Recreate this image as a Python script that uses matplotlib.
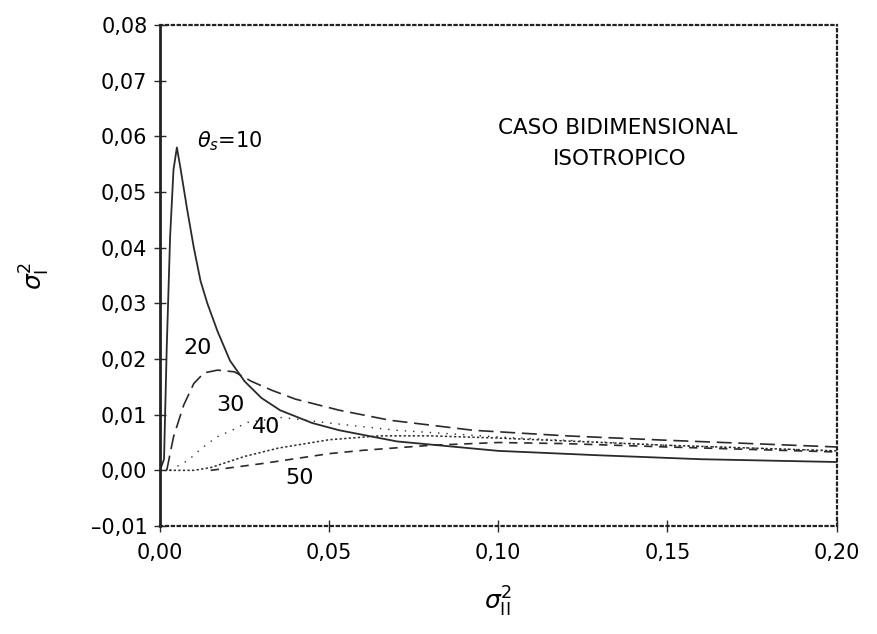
import matplotlib.pyplot as plt
import matplotlib.ticker as ticker

plt.rcParams['font.family'] = ['DejaVu Sans']

# curves (x = sigma^2_II, y = sigma^2_I)
x10 = [0.0, 0.0012, 0.002, 0.003, 0.004, 0.005, 0.006, 0.008, 0.010, 0.012, 0.014, 0.017,
       0.0207, 0.025, 0.030, 0.0355, 0.045, 0.053, 0.070, 0.100, 0.130, 0.160, 0.200]
y10 = [0.0, 0.002, 0.022, 0.042, 0.054, 0.058, 0.0545, 0.047, 0.040, 0.034, 0.030, 0.025,
       0.0197, 0.016, 0.013, 0.0108, 0.0085, 0.0072, 0.0052, 0.0035, 0.0027, 0.0020, 0.0015]

x20 = [0.002, 0.004, 0.007, 0.010, 0.013, 0.017, 0.022, 0.027, 0.033, 0.040, 0.053,
       0.068, 0.0925, 0.120, 0.150, 0.200]
y20 = [0.0, 0.006, 0.0117, 0.0156, 0.0175, 0.018, 0.0177, 0.016, 0.0144, 0.0128, 0.0108,
       0.009, 0.0072, 0.0062, 0.0054, 0.0042]

x30 = [0.003, 0.0083, 0.0124, 0.0168, 0.0213, 0.0257, 0.036, 0.050, 0.070, 0.100, 0.150, 0.200]
y30 = [0.0, 0.0018, 0.004, 0.006, 0.0072, 0.0086, 0.0095, 0.0085, 0.0072, 0.006, 0.0045, 0.0035]

x40 = [0.0, 0.010, 0.015, 0.025, 0.035, 0.050, 0.065, 0.080, 0.100, 0.150, 0.200]
y40 = [0.0, 0.0, 0.0005, 0.0025, 0.004, 0.0055, 0.0062, 0.0062, 0.0058, 0.0045, 0.0035]

x50 = [0.015, 0.020, 0.030, 0.040, 0.050, 0.060, 0.080, 0.100, 0.120, 0.150, 0.200]
y50 = [0.0, 0.0004, 0.0012, 0.0021, 0.003, 0.0036, 0.0045, 0.005, 0.0048, 0.0042, 0.0033]

curve_labels = ['20', '30', '40', '50']
label_x = [0.0112, 0.0207, 0.0313, 0.0414]
label_y = [0.0219, 0.0117, 0.0077, -0.0014]

fig = plt.figure(figsize=(8.77, 6.34), dpi=100)
ax = fig.add_axes([0.1824, 0.1703, 0.7716, 0.7903])

c = '#2a2a2a'
ax.plot(x10, y10, color=c, linewidth=1.3, linestyle='-')
ax.plot(x20, y20, color=c, linewidth=1.2, linestyle=(0, (9, 4)))
ax.plot(x30, y30, color=c, linewidth=1.0, linestyle=(0, (1, 5)))
ax.plot(x40, y40, color=c, linewidth=1.1, linestyle=(0, (1.5, 1.5)))
ax.plot(x50, y50, color=c, linewidth=1.2, linestyle=(0, (5, 4)))

ax.set_xlim(0.0, 0.20)
ax.set_ylim(-0.01, 0.08)
ax.set_xticks([0.0, 0.05, 0.10, 0.15, 0.20])
ax.set_yticks([-0.01, 0.0, 0.01, 0.02, 0.03, 0.04, 0.05, 0.06, 0.07, 0.08])

def comma_fmt(v, pos):
    s = '%.2f' % v
    if s == '-0.00':
        s = '0.00'
    return s.replace('.', ',').replace('-', '\u2013')

ax.xaxis.set_major_formatter(ticker.FuncFormatter(comma_fmt))
ax.yaxis.set_major_formatter(ticker.FuncFormatter(comma_fmt))
ax.tick_params(axis='both', direction='inout', length=8, width=1, labelsize=15, color=c)
ax.tick_params(axis='x', pad=8)
ax.tick_params(axis='y', pad=5)

for s in ax.spines.values():
    s.set_linestyle(':')
    s.set_linewidth(1.6)
    s.set_color('#222222')
ax.spines['left'].set_linestyle('-')
ax.spines['left'].set_linewidth(2.0)

ax.text(0.0109, 0.0592, r'$\theta_s$=10', fontsize=15, va='center', ha='left')
for lab, lx, ly in zip(curve_labels, label_x, label_y):
    ax.text(lx, ly, lab, fontsize=16, ha='center', va='center')

ax.text(0.1000, 0.0615, 'CASO BIDIMENSIONAL', fontsize=15.5, ha='left', va='center')
ax.text(0.1160, 0.0560, 'ISOTROPICO', fontsize=15.5, ha='left', va='center')

ax.set_xlabel(r'$\sigma^2_{\mathrm{II}}$', fontsize=18, labelpad=16)
ax.set_ylabel(r'$\sigma^2_{\mathrm{I}}$', fontsize=18, labelpad=28)

fig.savefig('out.png', dpi=100)
